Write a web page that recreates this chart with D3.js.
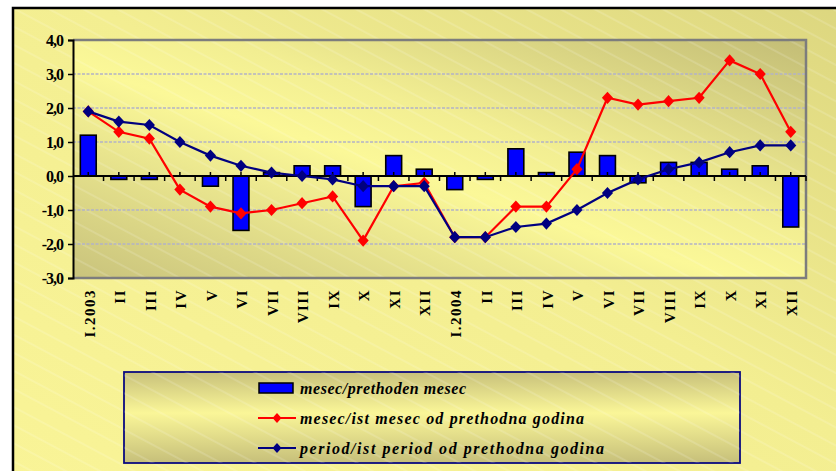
<!DOCTYPE html>
<html>
<head>
<meta charset="utf-8">
<script src="https://cdn.jsdelivr.net/npm/d3@7"></script>
<style>
  html, body { margin: 0; padding: 0; background: #fff; }
  svg { display: block; }
</style>
</head>
<body>
<div id="chart"></div>
<script>
const months = ['I.2003', 'II', 'III', 'IV', 'V', 'VI', 'VII', 'VIII', 'IX', 'X', 'XI', 'XII',
                'I.2004', 'II', 'III', 'IV', 'V', 'VI', 'VII', 'VIII', 'IX', 'X', 'XI', 'XII'];
// mesec/prethoden mesec (bars)
const monthOnMonth = [1.2, -0.1, -0.1, 0.0, -0.3, -1.6, 0.1, 0.3, 0.3, -0.9, 0.6, 0.2,
                      -0.4, -0.1, 0.8, 0.1, 0.7, 0.6, -0.2, 0.4, 0.4, 0.2, 0.3, -1.5];
// mesec/ist mesec od prethodna godina (red)
const monthOnYear = [1.9, 1.3, 1.1, -0.4, -0.9, -1.1, -1.0, -0.8, -0.6, -1.9, -0.3, -0.2,
                     -1.8, -1.8, -0.9, -0.9, 0.2, 2.3, 2.1, 2.2, 2.3, 3.4, 3.0, 1.3];
// period/ist period od prethodna godina (navy)
const periodOnYear = [1.9, 1.6, 1.5, 1.0, 0.6, 0.3, 0.1, 0.0, -0.1, -0.3, -0.3, -0.3,
                      -1.8, -1.8, -1.5, -1.4, -1.0, -0.5, -0.1, 0.2, 0.4, 0.7, 0.9, 0.9];
const yTicks = [-3, -2, -1, 0, 1, 2, 3, 4];
const legendLabels = ['mesec/prethoden mesec',
                      'mesec/ist mesec od prethodna godina',
                      'period/ist period od prethodna godina'];

const width = 836, height = 471;
const plot = { left: 73, right: 806, top: 40, bottom: 278 };

const svg = d3.select('#chart').append('svg')
              .attr('width', width)
              .attr('height', height);

const defs = svg.append('defs');

const outerGrad = defs.append('linearGradient')
                      .attr('id', 'outerGrad')
                      .attr('x1', 1).attr('y1', 0).attr('x2', 0).attr('y2', 1);
outerGrad.append('stop').attr('offset', 0).attr('stop-color', '#dcd67f');
outerGrad.append('stop').attr('offset', 0.45).attr('stop-color', '#f3ee91');
outerGrad.append('stop').attr('offset', 1).attr('stop-color', '#f9f497');

const plotGrad = defs.append('linearGradient')
                     .attr('id', 'plotGrad')
                     .attr('x1', 0).attr('y1', 1).attr('x2', 1).attr('y2', 0);
plotGrad.append('stop').attr('offset', 0).attr('stop-color', '#c9c37c');
plotGrad.append('stop').attr('offset', 0.45).attr('stop-color', '#fbf898');
plotGrad.append('stop').attr('offset', 0.6).attr('stop-color', '#f2ee92');
plotGrad.append('stop').attr('offset', 1).attr('stop-color', '#c3bd76');

const legendGrad = defs.append('linearGradient')
                       .attr('id', 'legendGrad')
                       .attr('x1', 0).attr('y1', 0).attr('x2', 0).attr('y2', 1);
legendGrad.append('stop').attr('offset', 0).attr('stop-color', '#c8c17b');
legendGrad.append('stop').attr('offset', 0.45).attr('stop-color', '#faf698');
legendGrad.append('stop').attr('offset', 1).attr('stop-color', '#c6bf7a');

// faint diagonal streaks over the yellow
const hatch = defs.append('pattern')
                  .attr('id', 'hatch')
                  .attr('patternUnits', 'userSpaceOnUse')
                  .attr('width', 16).attr('height', 16)
                  .attr('patternTransform', 'rotate(28)');
hatch.append('line')
     .attr('x1', 0).attr('y1', 1).attr('x2', 16).attr('y2', 1)
     .attr('stroke', '#ffffff').attr('stroke-opacity', 0.35).attr('stroke-width', 0.8);

// outer chart frame
svg.append('rect')
   .attr('x', 13).attr('y', 8).attr('width', 840).attr('height', 480)
   .attr('fill', 'url(#outerGrad)');
svg.append('rect')
   .attr('x', 13).attr('y', 8).attr('width', 840).attr('height', 480)
   .attr('fill', 'url(#hatch)')
   .attr('stroke', '#000').attr('stroke-width', 2.5);

const x = d3.scaleBand()
            .domain(d3.range(months.length))
            .range([plot.left, plot.right]);
const y = d3.scaleLinear()
            .domain([-3, 4])
            .range([plot.bottom, plot.top]);
const bw = x.bandwidth();
const cx = i => x(i) + bw / 2;

// plot area
svg.append('rect')
   .attr('x', plot.left).attr('y', plot.top)
   .attr('width', plot.right - plot.left).attr('height', plot.bottom - plot.top)
   .attr('fill', 'url(#plotGrad)');
svg.append('rect')
   .attr('x', plot.left).attr('y', plot.top)
   .attr('width', plot.right - plot.left).attr('height', plot.bottom - plot.top)
   .attr('fill', 'url(#hatch)');

// gridlines
svg.append('g')
   .selectAll('line')
   .data(yTicks.filter(d => d !== 0 && d !== 4 && d !== -3))
   .enter().append('line')
   .attr('x1', plot.left).attr('x2', plot.right)
   .attr('y1', d => y(d)).attr('y2', d => y(d))
   .attr('stroke', '#b3b3c6')
   .attr('stroke-width', 1.5)
   .attr('stroke-dasharray', '3,1.5');

// plot border (gray)
svg.append('path')
   .attr('d', `M${plot.left},${plot.top}H${plot.right}V${plot.bottom}H${plot.left}`)
   .attr('fill', 'none')
   .attr('stroke', '#7d7d7d')
   .attr('stroke-width', 2.5);

// bars
svg.append('g')
   .selectAll('rect')
   .data(monthOnMonth)
   .enter().append('rect')
   .attr('x', (d, i) => cx(i) - bw * 0.26)
   .attr('width', bw * 0.52)
   .attr('y', d => y(Math.max(0, d)))
   .attr('height', d => Math.abs(y(d) - y(0)))
   .attr('fill', '#0000ff')
   .attr('stroke', '#000')
   .attr('stroke-width', 1.6);

// zero axis with ticks
const zeroAxis = svg.append('g');
zeroAxis.append('line')
        .attr('x1', plot.left).attr('x2', plot.right)
        .attr('y1', y(0)).attr('y2', y(0))
        .attr('stroke', '#000').attr('stroke-width', 2);
zeroAxis.selectAll('.tb')
        .data(d3.range(1, months.length + 1))
        .enter().append('line')
        .attr('x1', i => x(0) + i * bw).attr('x2', i => x(0) + i * bw)
        .attr('y1', y(0)).attr('y2', y(0) + 5)
        .attr('stroke', '#000').attr('stroke-width', 1.5);
zeroAxis.selectAll('.tc')
        .data(d3.range(months.length))
        .enter().append('line')
        .attr('x1', cx).attr('x2', cx)
        .attr('y1', y(0)).attr('y2', y(0) - 4)
        .attr('stroke', '#000').attr('stroke-width', 1.5);

// y axis
const yAxis = svg.append('g')
                 .attr('transform', `translate(${plot.left},0)`)
                 .call(d3.axisLeft(y)
                         .tickValues(yTicks)
                         .tickSize(5)
                         .tickPadding(5)
                         .tickFormat(d => d.toFixed(1).replace('.', ',')));
yAxis.select('.domain').attr('stroke', '#000').attr('stroke-width', 2);
yAxis.selectAll('.tick line').attr('stroke', '#000').attr('stroke-width', 1.5);
yAxis.selectAll('.tick text')
     .attr('fill', '#000')
     .style('font-family', '"Liberation Serif", "Times New Roman", serif')
     .style('font-weight', 'bold')
     .style('font-size', '16px')
     .style('letter-spacing', '-1px');

// x labels
svg.append('g')
   .selectAll('text')
   .data(months)
   .enter().append('text')
   .attr('transform', (d, i) => `translate(${cx(i) + 1},289) rotate(-90)`)
   .attr('text-anchor', 'end')
   .attr('dy', '0.35em')
   .style('font-family', '"Liberation Serif", "Times New Roman", serif')
   .style('font-weight', 'bold')
   .style('font-size', '15px')
   .style('letter-spacing', '1.5px')
   .text(d => d);

// lines; markers are squares turned 45 degrees
const diamond = d3.symbol().type(d3.symbolSquare).size(62);
const line = d3.line()
               .x((d, i) => cx(i))
               .y(d => y(d));

function drawSeries(values, color) {
    const g = svg.append('g');
    g.append('path')
     .datum(values)
     .attr('d', line)
     .attr('fill', 'none')
     .attr('stroke', color)
     .attr('stroke-width', 2.2);
    g.selectAll('path.m')
     .data(values)
     .enter().append('path')
     .attr('class', 'm')
     .attr('d', diamond)
     .attr('transform', (d, i) => `translate(${cx(i)},${y(d)}) scale(1,1.1) rotate(45)`)
     .attr('fill', color);
}
drawSeries(monthOnYear, '#ff0000');
drawSeries(periodOnYear, '#000080');

// legend
const legend = svg.append('g');
legend.append('rect')
      .attr('x', 124).attr('y', 372).attr('width', 616).attr('height', 91)
      .attr('fill', 'url(#legendGrad)')
      .attr('stroke', '#0a0a80').attr('stroke-width', 1.8);
legend.append('rect')
      .attr('x', 124).attr('y', 372).attr('width', 616).attr('height', 91)
      .attr('fill', 'url(#hatch)');

const rowY = [388, 418, 448];
const textLen = [166, 284, 304];
legend.append('rect')
      .attr('x', 259).attr('y', rowY[0] - 5).attr('width', 34).attr('height', 10)
      .attr('fill', '#0000ff').attr('stroke', '#000').attr('stroke-width', 1.5);
[['#ff0000', rowY[1]], ['#000080', rowY[2]]].forEach(([c, ry]) => {
    legend.append('line')
          .attr('x1', 258).attr('x2', 296).attr('y1', ry).attr('y2', ry)
          .attr('stroke', c).attr('stroke-width', 2);
    legend.append('path')
          .attr('d', d3.symbol().type(d3.symbolSquare).size(40))
          .attr('transform', `translate(277,${ry}) scale(1,1.1) rotate(45)`)
          .attr('fill', c);
});
legend.selectAll('text')
      .data(legendLabels)
      .enter().append('text')
      .attr('x', 300)
      .attr('y', (d, i) => rowY[i])
      .attr('dy', '0.35em')
      .attr('textLength', (d, i) => textLen[i])
      .attr('lengthAdjust', 'spacing')
      .style('font-family', '"Liberation Serif", "Times New Roman", serif')
      .style('font-weight', 'bold')
      .style('font-style', 'italic')
      .style('font-size', '16px')
      .text(d => d);
</script>
</body>
</html>
